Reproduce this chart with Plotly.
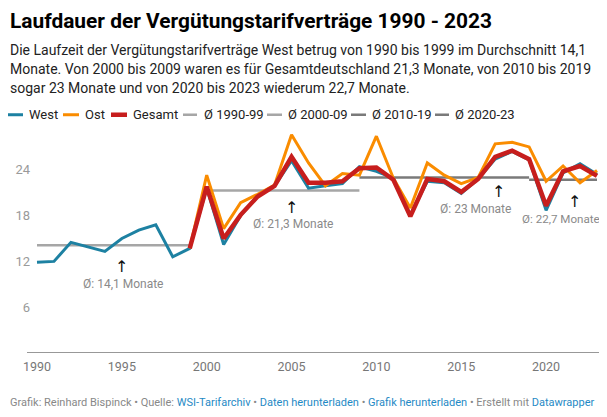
import plotly.graph_objects as go

# ---- data ----
years_west = list(range(1990, 2024))
west = [11.9, 12.0, 14.5, 13.9, 13.3, 15.0, 16.1, 16.8, 12.6, 13.7,
        21.6, 14.2, 18.0, 20.5, 21.9, 25.2, 21.6, 21.9, 22.2, 24.4,
        23.8, 22.9, 18.1, 22.5, 22.3, 20.9, 22.8, 25.4, 26.4, 25.3,
        18.7, 23.6, 24.8, 23.4]
years_ost = list(range(1999, 2024))
ost = [13.7,
       23.3, 16.3, 19.7, 20.8, 22.0, 28.6, 24.9, 21.9, 23.5, 23.3,
       28.4, 22.9, 19.0, 24.9, 23.3, 22.2, 23.0, 27.4, 27.6, 27.0,
       22.5, 24.5, 22.3, 23.9]
gesamt = [13.7,
          21.8, 15.0, 18.1, 20.5, 21.9, 25.7, 22.3, 22.3, 22.5, 24.2,
          24.3, 22.7, 17.9, 22.8, 22.5, 21.1, 22.8, 25.7, 26.5, 25.4,
          19.3, 23.8, 24.5, 23.2]

avg_names = ["Ø 1990-99", "Ø 2000-09", "Ø 2010-19", "Ø 2020-23"]
avg_x = [[1990, 1999], [2000, 2009], [2009, 2019], [2019, 2023]]
avg_vals = [14.1, 21.3, 23.0, 22.7]
avg_labels = ["Ø: 14,1 Monate", "Ø: 21,3 Monate", "Ø: 23 Monate", "Ø: 22,7 Monate"]
avg_arrow_x = [1995, 2005, 2017.2, 2021.7]

x_ticks = [1990, 1995, 2000, 2005, 2010, 2015, 2020]
y_ticks = [6, 12, 18, 24]

title = "Laufdauer der Vergütungstarifverträge 1990 - 2023"
subtitle_lines = [
    "Die Laufzeit der Vergütungstarifverträge West betrug von 1990 bis 1999 im Durchschnitt 14,1",
    "Monate. Von 2000 bis 2009 waren es für Gesamtdeutschland 21,3 Monate, von 2010 bis 2019",
    "sogar 23 Monate und von 2020 bis 2023 wiederum 22,7 Monate.",
]

# ---- styles ----
OFF = 8                          # page body margin offset
W, H = 600 - OFF, 417 - 2 * OFF  # figure size (fits the visible viewport)
L, R = 35 - OFF, 0
T = 124.25 - OFF
B = H - (353 - OFF)
PW, PH = W - L - R, H - T - B
X0 = 1990 - 2 / 16.97
X1 = 2023 + 3 / 16.97
FONT = "Roboto, Arial, sans-serif"
C_WEST, C_OST, C_GES = "#1d81a2", "#fa8c00", "#c71e1d"
avg_colors = ["#a6a6a6", "#a6a6a6", "#7a7a7a", "#7a7a7a"]
LINK = "#1f8ac5"


def px_x(px):
    """page pixel x -> paper"""
    return (px - OFF - L) / PW


def px_y(py):
    """page pixel y -> paper"""
    return (H - B - (py - OFF)) / PH


fig = go.Figure()
for nm, xs, v, c in zip(avg_names, avg_x, avg_vals, avg_colors):
    fig.add_trace(go.Scatter(x=xs, y=[v, v], mode="lines", name=nm,
                             line=dict(color=c, width=2.5), hoverinfo="skip"))
fig.add_trace(go.Scatter(x=years_west, y=west, mode="lines", name="West",
                         line=dict(color=C_WEST, width=3)))
fig.add_trace(go.Scatter(x=years_ost, y=ost, mode="lines", name="Ost",
                         line=dict(color=C_OST, width=3)))
fig.add_trace(go.Scatter(x=years_ost, y=gesamt, mode="lines", name="Gesamt",
                         line=dict(color=C_GES, width=4.5)))

ann = []
shapes = []

# title & subtitle
ann.append(dict(text="<b>" + title + "</b>", xref="paper", yref="paper",
                x=px_x(8), y=px_y(21), xanchor="left", yanchor="middle",
                showarrow=False, font=dict(family=FONT, size=20.9, color="#000")))
for i, line in enumerate(subtitle_lines):
    ann.append(dict(text=line, xref="paper", yref="paper",
                    x=px_x(8), y=px_y(50 + 19 * i), xanchor="left", yanchor="middle",
                    showarrow=False, font=dict(family=FONT, size=14, color="#222")))

# manual legend
leg_items = [("West", C_WEST, 3, 8, 23, 27),
             ("Ost", C_OST, 3, 63, 79, 83),
             ("Gesamt", C_GES, 4.5, 111, 127, 131),
             (avg_names[0], avg_colors[0], 2.5, 183, 197, 202),
             (avg_names[1], avg_colors[1], 2.5, 267, 282, 286),
             (avg_names[2], avg_colors[2], 2.5, 351, 366, 370),
             (avg_names[3], avg_colors[3], 2.5, 435, 449, 453)]
for nm, c, w, s0, s1, tx in leg_items:
    shapes.append(dict(type="line", xref="paper", yref="paper",
                       x0=px_x(s0), x1=px_x(s1), y0=px_y(115), y1=px_y(115),
                       line=dict(color=c, width=w)))
    ann.append(dict(text=nm, xref="paper", yref="paper", x=px_x(tx), y=px_y(115),
                    xanchor="left", yanchor="middle", showarrow=False,
                    font=dict(family=FONT, size=13, color="#222")))

# average annotations
arrow_y = [267, 208, 192, 202]
label_y = [284, 224, 209, 219]
label_x = [123, 293, 475, 561]
label_size = [12, 12, 12, 11.6]
for lab, ax, ay, lx, ly, ls in zip(avg_labels, avg_arrow_x, arrow_y, label_x,
                                   label_y, label_size):
    ann.append(dict(text="↑", xref="x", yref="paper", x=ax, y=px_y(ay),
                    xanchor="center", yanchor="middle", showarrow=False,
                    font=dict(family="DejaVu Sans, sans-serif", size=16, color="#111")))
    ann.append(dict(text=lab, xref="paper", yref="paper", x=px_x(lx), y=px_y(ly),
                    xanchor="center", yanchor="middle", showarrow=False,
                    font=dict(family=FONT, size=ls, color="#8a8a8a")))

# footer
g = "#888888"
footer = (f"<span style='color:{g}'>Grafik: Reinhard Bispinck • Quelle: </span>"
          f"<span style='color:{LINK}'>WSI-Tarifarchiv</span>"
          f"<span style='color:{g}'> • </span>"
          f"<span style='color:{LINK}'>Daten herunterladen</span>"
          f"<span style='color:{g}'> • </span>"
          f"<span style='color:{LINK}'>Grafik herunterladen</span>"
          f"<span style='color:{g}'> • Erstellt mit </span>"
          f"<span style='color:{LINK}'>Datawrapper</span>")
ann.append(dict(text=footer, xref="paper", yref="paper", x=px_x(8), y=px_y(402),
                xanchor="left", yanchor="middle", showarrow=False,
                font=dict(family=FONT, size=11, color=g)))

# baseline
shapes.append(dict(type="line", xref="paper", yref="y", x0=px_x(27), x1=1,
                   y0=0, y1=0, line=dict(color="#333333", width=1.2)))

fig.update_layout(
    width=W, height=H,
    margin=dict(l=L, r=R, t=T, b=B, pad=0),
    paper_bgcolor="white", plot_bgcolor="white",
    showlegend=False,
    annotations=ann, shapes=shapes,
    font=dict(family=FONT),
    xaxis=dict(range=[X0, X1], tickvals=x_ticks,
               showgrid=False, zeroline=False, showline=False, ticks="",
               ticklabelstandoff=4,
               tickfont=dict(family=FONT, size=12.5, color="#777")),
    yaxis=dict(range=[0, 30], tickvals=y_ticks, showgrid=False, zeroline=False,
               showline=False, ticks="", ticklabelstandoff=4,
               tickfont=dict(family=FONT, size=13, color="#9a9a9a")),
)

fig.write_html("out.html")
